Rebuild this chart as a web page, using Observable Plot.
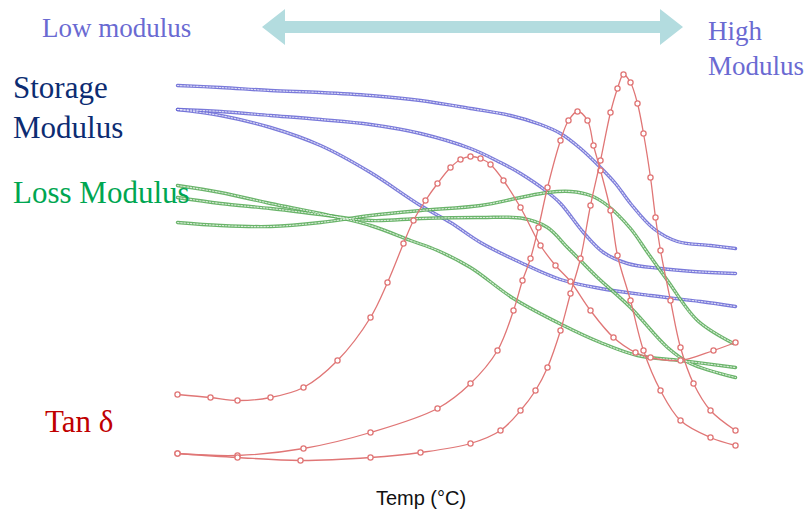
<!DOCTYPE html>
<html><head><meta charset="utf-8">
<script src="https://cdn.jsdelivr.net/npm/d3@7"></script>
<script src="https://cdn.jsdelivr.net/npm/@observablehq/plot@0.6"></script>
<style>
body{margin:0;background:#fff}
#wrap{position:relative;width:811px;height:509px;overflow:hidden}
#chart{position:absolute;left:0;top:0}
.lbl{position:absolute;white-space:nowrap;line-height:1;font-family:"Liberation Serif","Times New Roman",serif}
</style></head>
<body>
<div id="wrap">
<div id="chart"></div>
<svg style="position:absolute;left:0;top:0" width="811" height="60"><polygon points="262,27 285,9 285,21 660,21 660,9 683,27 660,45 660,33 285,33 285,45" fill="#b3dcdf"/></svg>
<div class="lbl" style="left:42px;top:15px;font-size:27px;color:#6a6ad2">Low modulus</div>
<div class="lbl" style="left:708px;top:18px;font-size:27px;color:#6a6ad2">High</div>
<div class="lbl" style="left:708px;top:53px;font-size:27px;color:#6a6ad2">Modulus</div>
<div class="lbl" style="left:13px;top:72px;font-size:31px;color:#0c2c72">Storage</div>
<div class="lbl" style="left:13px;top:112px;font-size:31px;color:#0c2c72">Modulus</div>
<div class="lbl" style="left:13px;top:177px;font-size:31px;color:#00a651">Loss Modulus</div>
<div class="lbl" style="left:45px;top:406px;font-size:31px;color:#c00000">Tan δ</div>
<div class="lbl" style="left:421px;top:488px;transform:translateX(-50%);font-family:'Liberation Sans',Arial,sans-serif;font-size:20px;color:#111">Temp (°C)</div>
</div>
<script>
// temperature (arbitrary units along the sweep) and response (arbitrary log units)
const S1_T = [0,43,93,143,193,243,293,333,363,383,403,423,438,453,476,500,533,558];
const S1_V = [390,388,385,383,380,375,367,360,351,342,327,308,292,272,247,234,230,227];
const S2_T = [0,43,93,143,193,243,293,323,343,368,383,406,426,450,483,516,558];
const S2_V = [366,364,360,356,351,342,327,313,302,285,272,243,223,212,207,204,202];
const S3_T = [0,43,93,143,193,243,273,303,343,383,423,473,523,558];
const S3_V = [366,360,348,330,303,270,253,233,213,196,187,180,174,169];

const G1_T = [0,43,93,143,193,233,260,293,336,386,423,460,503,558];
const G1_V = [290,283,272,262,250,235,225,208,177,150,133,120,115,108];
const G2_T = [0,43,93,143,193,243,303,346,370,390,403,420,453,490,513,558];
const G2_V = [278,272,267,261,255,257,258,257,248,228,215,198,168,128,112,98];
const G3_T = [0,43,93,143,193,243,303,343,370,393,413,430,453,470,490,520,556];
const G3_V = [253,250,249,253,260,265,270,278,283,284,280,270,247,223,195,155,132];

const D1_T = [0,33,60,93,126,160,193,210,226,236,248,260,273,283,293,303,313,326,343,363,378,393,413,436,458,473,503,536,558];
const D1_V = [81,78,75,78,88,115,158,193,232,255,275,292,308,316,319,317,311,295,268,230,210,194,165,138,123,118,115,125,133];
const D2_T = [0,60,126,193,260,293,320,336,345,353,361,370,383,391,400,410,416,423,433,440,453,466,483,503,533,558];
const D2_V = [22,20,27,43,67,92,125,165,195,217,248,288,335,355,364,355,330,305,265,220,175,125,85,55,38,30];
const D3_T = [0,60,123,193,243,293,323,343,358,370,383,393,403,413,423,433,440,446,453,460,466,473,478,483,493,503,516,533,558];
const D3_V = [22,18,15,18,23,32,45,65,85,108,145,182,217,270,315,363,387,401,393,372,342,298,258,225,175,128,92,65,45];

const rows = (id, T, V) => T.map((t, i) => ({id, t, v: V[i]}));
const storage = [...rows("S1", S1_T, S1_V), ...rows("S2", S2_T, S2_V), ...rows("S3", S3_T, S3_V)];
const loss = [...rows("G1", G1_T, G1_V), ...rows("G2", G2_T, G2_V), ...rows("G3", G3_T, G3_V)];
const tan = [...rows("D1", D1_T, D1_V), ...rows("D2", D2_T, D2_V), ...rows("D3", D3_T, D3_V)];

const base = {x: "t", y: "v", z: "id", curve: "catmull-rom"};
const chart = Plot.plot({
  width: 811, height: 475,
  marginLeft: 177, marginRight: 76, marginTop: 0, marginBottom: 0,
  x: {domain: [0, 558], axis: null},
  y: {domain: [0, 475], axis: null},
  marks: [
    Plot.line(storage, {...base, stroke: "#6c6cd6", strokeWidth: 3.4, strokeOpacity: 0.9}),
    Plot.line(storage, {...base, stroke: "#fff", strokeWidth: 1.1, strokeOpacity: 0.75, strokeDasharray: "1.6,1.6"}),
    Plot.line(loss, {...base, stroke: "#5aac5a", strokeWidth: 3.4, strokeOpacity: 0.9}),
    Plot.line(loss, {...base, stroke: "#fff", strokeWidth: 1.1, strokeOpacity: 0.75, strokeDasharray: "1.6,1.6"}),
    Plot.line(tan, {...base, stroke: "#e07676", strokeWidth: 1.3, marker: "circle-stroke"})
  ]
});
document.getElementById("chart").appendChild(chart);
</script>
</body></html>
